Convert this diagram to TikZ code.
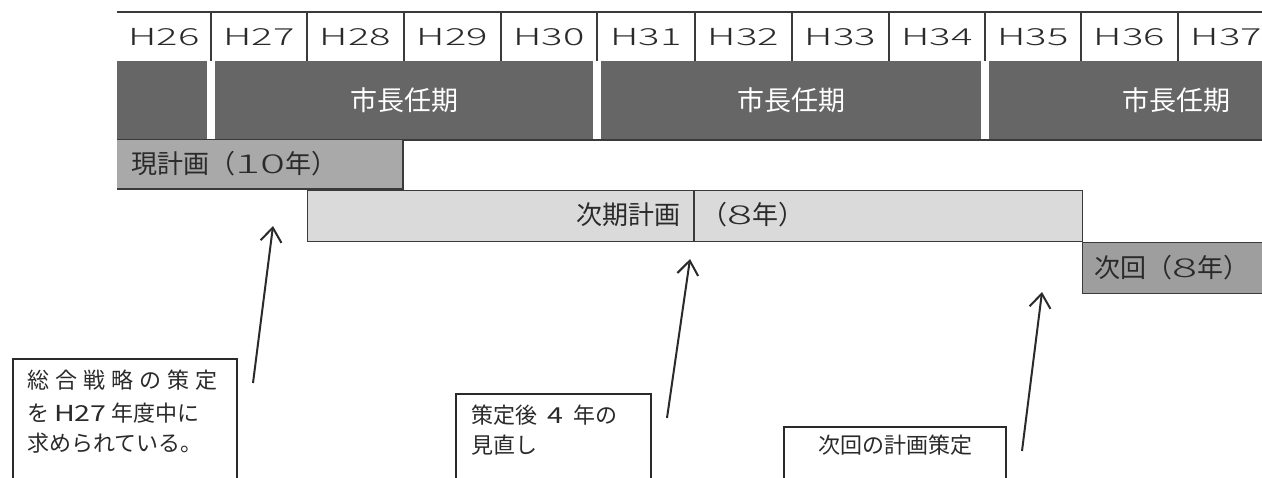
\documentclass[tikz,border=0pt]{standalone}
\usepackage{fontspec}
\setmainfont{Noto Sans CJK JP}
\newfontfamily\lightfont{Noto Sans CJK JP}[UprightFont={* Light}]
\usetikzlibrary{arrows.meta}
\definecolor{ink}{HTML}{2A2A2A}
\definecolor{rule}{HTML}{3A3A3A}
\definecolor{mayor}{HTML}{666666}
\definecolor{curplan}{HTML}{A9A9A9}
\definecolor{nextplan}{HTML}{DADADA}
\definecolor{afterplan}{HTML}{9E9E9E}
\newcommand\yrlabel[1]{\scalebox{1.7}[1]{#1}}
\newcommand\widedig[1]{\scalebox{1.8}[1]{\lightfont #1}}
\newcommand\boxdig[1]{\scalebox{1.3}[1]{#1}}
\tikzset{
  yearcell/.style={inner sep=0pt, text=ink, font=\lightfont\fontsize{23.5}{26}\selectfont},
  mayorseg/.style={fill=mayor, draw=none, inner sep=0pt, anchor=north west},
  mayortext/.style={text=white, font=\fontsize{27}{30}\selectfont, inner sep=0pt},
  planlabel/.style={text=ink, font=\fontsize{26}{30}\selectfont, inner sep=0pt},
  callout/.style={draw=ink, line width=1.5pt, fill=none, inner sep=0pt},
  callouttext/.style={text=ink, font=\fontsize{22}{26}\selectfont, inner sep=0pt, anchor=west},
  pointer/.style={draw=ink, line width=2pt, -{Straight Barb[length=14pt,width=21pt,line width=2pt]}},
}
\begin{document}
\begin{tikzpicture}[x=1pt,y=-1pt]
\useasboundingbox (0,0) rectangle (1262,477);
\fill[white] (0,0) rectangle (1262,477);
\begin{scope}
\clip (0,0) rectangle (1262,477);

% ---- year row ----
\draw[rule, line width=1.2pt] (117,12) -- (1275,12);
\foreach \xa/\xb/\lab in {117/211/H26,211/307/H27,307/404/H28,404/501/H29,501/597/H30,597/695/H31,695/792/H32,792/889/H33,889/985/H34,985/1081/H35,1081/1178/H36,1178/1275/H37}{
  \node[yearcell] (yr\lab) at ({(\xa+\xb)/2},37) {\yrlabel{\lab}};
}
\foreach \xx in {211,307,404,501,597,695,792,889,985,1081,1178}{
  \draw[rule, line width=1.2pt] (\xx,12) -- (\xx,61);
}

% ---- mayor terms ----
\node[mayorseg, minimum width=90pt, minimum height=79pt] (m0) at (117,61) {};
\node[mayorseg, minimum width=378pt, minimum height=79pt] (m1) at (215,61) {};
\node[mayorseg, minimum width=380pt, minimum height=79pt] (m2) at (601,61) {};
\node[mayorseg, minimum width=380pt, minimum height=79pt] (m3) at (989,61) {};
\node[mayortext] (t1) at (404,100) {市長任期};
\node[mayortext] (t2) at (791,100) {市長任期};
\node[mayortext] (t3) at (1176,100) {市長任期};
\draw[rule, line width=1.2pt] (117,140) -- (1275,140);

% ---- current plan ----
\node[fill=curplan, inner sep=0pt, anchor=north west, minimum width=286pt, minimum height=49pt] (cur) at (117,140) {};
\draw[rule, line width=1.2pt] (117,189) -- (403,189) -- (403,140);
\node[planlabel, anchor=west] (curlab) at (131,164) {現計画（\widedig{10}年）};

% ---- next plan ----
\node[fill=nextplan, draw=rule, line width=1.2pt, inner sep=0pt, anchor=north west, minimum width=775pt, minimum height=51pt] (next) at (307,190) {};
\draw[rule, line width=1.2pt] (694,190) -- (694,241);
\node[planlabel, anchor=east] (nextlab) at (681,215) {次期計画};
\node[planlabel, anchor=west] (nextyrs) at (701,215) {（\widedig{8}年）};

% ---- plan after next ----
\node[fill=afterplan, draw=rule, line width=1.2pt, inner sep=0pt, anchor=north west, minimum width=220pt, minimum height=51pt] (after) at (1082,242) {};
\node[planlabel, anchor=west] (afterlab) at (1094,268) {次回（\widedig{8}年）};

% ---- callout boxes ----
\node[callout, minimum width=224pt, minimum height=140pt, anchor=north west] (box1) at (12,358) {};
\node[callouttext] (b1l1) at (27,380) {\makebox[190pt][s]{総\hfill 合\hfill 戦\hfill 略\hfill の\hfill 策\hfill 定}};
\node[callouttext] (b1l2) at (27,413) {を \boxdig{H27} 年度中に};
\node[callouttext] (b1l3) at (27,443) {求められている。};

\node[callout, minimum width=195pt, minimum height=100pt, anchor=north west] (box2) at (455,393) {};
\node[callouttext] (b2l1) at (471,415) {策定後\hspace{10pt}\boxdig{4}\hspace{10pt}年の};
\node[callouttext] (b2l2) at (471,445) {見直し};

\node[callout, minimum width=222pt, minimum height=70pt, anchor=north west] (box3) at (783,426) {};
\node[callouttext, anchor=center] (b3l1) at (895,445) {次回の計画策定};

% ---- pointers ----
\coordinate (p1t) at (253,383);
\coordinate (p1h) at (273,226);
\coordinate (p2t) at (667,418);
\coordinate (p2h) at (690,259);
\coordinate (p3t) at (1022,451);
\coordinate (p3h) at (1042,292);
\draw[pointer] (p1t) -- (p1h);
\draw[pointer] (p2t) -- (p2h);
\draw[pointer] (p3t) -- (p3h);
\end{scope}
\end{tikzpicture}
\end{document}
